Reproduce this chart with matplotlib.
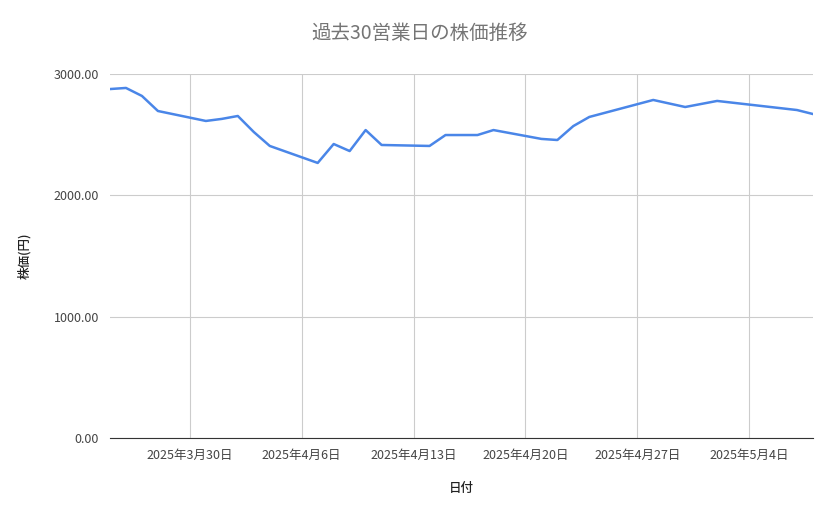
import matplotlib
matplotlib.use("Agg")
import matplotlib.pyplot as plt
import datetime as dt

plt.rcParams['font.family'] = ['Noto Sans CJK JP', 'DejaVu Sans']

dates = ["2025-03-25","2025-03-26","2025-03-27","2025-03-28","2025-03-31","2025-04-01","2025-04-02",
         "2025-04-03","2025-04-04","2025-04-07","2025-04-08","2025-04-09","2025-04-10","2025-04-11",
         "2025-04-14","2025-04-15","2025-04-17","2025-04-18","2025-04-21","2025-04-22","2025-04-23",
         "2025-04-24","2025-04-28","2025-04-30","2025-05-02","2025-05-07","2025-05-08"]
prices = [2876,2885,2819,2695,2613,2630,2654,2522,2407,2267,2423,2365,2538,2415,
          2407,2497,2497,2538,2465,2456,2571,2646,2786,2728,2778,2703,2670]
tick_dates = ["2025-03-30","2025-04-06","2025-04-13","2025-04-20","2025-04-27","2025-05-04"]
tick_labels = ["2025年3月30日","2025年4月6日","2025年4月13日","2025年4月20日","2025年4月27日","2025年5月4日"]

x = [dt.datetime.strptime(d, "%Y-%m-%d") for d in dates]
tx = [dt.datetime.strptime(d, "%Y-%m-%d") for d in tick_dates]

fig = plt.figure(figsize=(8.39, 5.19), dpi=100)
ax = fig.add_axes([110/839, 1-438/519, 703/839, 364/519])
ax.plot(x, prices, color="#4a86e8", lw=1.8)
ax.set_xlim(x[0], x[-1])
ax.set_ylim(0, 3000)
ax.set_yticks([0, 1000, 2000, 3000])
ax.set_yticklabels(["0.00", "1000.00", "2000.00", "3000.00"])
ax.set_xticks(tx)
ax.set_xticklabels(tick_labels)
ax.grid(True, color="#cccccc", lw=0.8)
ax.set_axisbelow(True)
for s in ["top", "right", "left"]:
    ax.spines[s].set_visible(False)
ax.spines["bottom"].set_color("#333333")
ax.tick_params(length=0, labelsize=9, colors="#444444", pad=8)
ax.set_xlabel("日付", fontsize=9, color="#222222", labelpad=14, fontweight="medium")
ax.set_ylabel("株価(円)", fontsize=9, color="#222222", labelpad=16, fontweight="medium")
fig.suptitle("過去30営業日の株価推移", x=0.5, y=0.955, fontsize=14, color="#757575")
fig.savefig("out.png", dpi=100, facecolor="white")
